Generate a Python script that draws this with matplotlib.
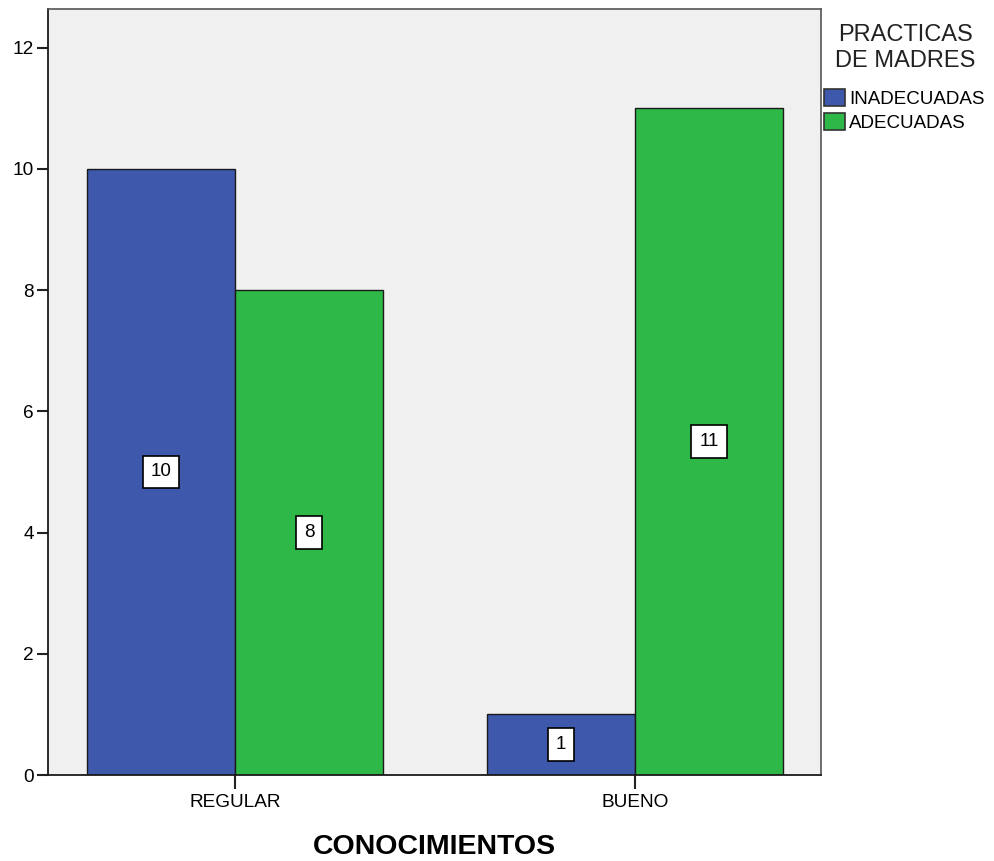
import numpy as np
import matplotlib.pyplot as plt

plt.rcParams['font.family'] = ['Liberation Sans', 'DejaVu Sans']

# Conteos por nivel de conocimiento y tipo de practica
categorias = ["REGULAR", "BUENO"]
inadecuadas = [10, 1]
adecuadas = [8, 11]
series = ["INADECUADAS", "ADECUADAS"]
colores = ["#3E58AC", "#2EB848"]

fig = plt.figure(figsize=(9.94, 8.61), dpi=100)
ax = fig.add_axes([48 / 994, 86 / 861, 773 / 994, 766 / 861])
ax.set_facecolor("#F0F0F0")

x = np.arange(len(categorias))
ancho = 0.37
for valores, nombre, color, desp in zip([inadecuadas, adecuadas], series, colores, [-ancho / 2, ancho / 2]):
    barras = ax.bar(x + desp, valores, width=ancho, color=color, edgecolor="#1a1a1a",
                    linewidth=1, label=nombre)
    for b, v in zip(barras, valores):
        ax.text(b.get_x() + b.get_width() / 2, v / 2, str(v), ha="center", va="center",
                fontsize=13.5,
                bbox=dict(boxstyle="square,pad=0.42", fc="white", ec="black", lw=1.2))

ax.set_xlim(-0.4675, 1.465)
ax.set_ylim(0, 12.64)
ax.set_yticks(range(0, 13, 2))
ax.set_xticks(x)
ax.set_xticklabels(categorias)
ax.tick_params(axis="both", labelsize=13.7, width=1.5, color="#222222")
ax.tick_params(axis="x", length=10, pad=4)
ax.tick_params(axis="y", length=8, pad=2)

for lado in ["left", "bottom"]:
    ax.spines[lado].set_color("#1a1a1a")
    ax.spines[lado].set_linewidth(1.3)
for lado in ["top", "right"]:
    ax.spines[lado].set_color("#555555")
    ax.spines[lado].set_linewidth(1.2)

ax.set_xlabel("CONOCIMIENTOS", fontsize=20.5, fontweight="bold", labelpad=16)

# Leyenda: titulo centrado aparte y entradas debajo
fig.text(905 / 994, 1 - 48 / 861, "PRACTICAS\nDE MADRES", ha="center", va="center",
         fontsize=17, linespacing=1.2, color="#222222")
leg = fig.legend(loc="upper left", bbox_to_anchor=(824 / 994, 1 - 89 / 861),
                 bbox_transform=fig.transFigure, frameon=False, fontsize=13.5,
                 handlelength=1.1, handleheight=1.0, handletextpad=0.25,
                 borderpad=0, borderaxespad=0, labelspacing=0.3)
for h in leg.legend_handles:
    h.set_edgecolor("#333333")
    h.set_linewidth(1.2)

fig.savefig("out.png", dpi=100)
